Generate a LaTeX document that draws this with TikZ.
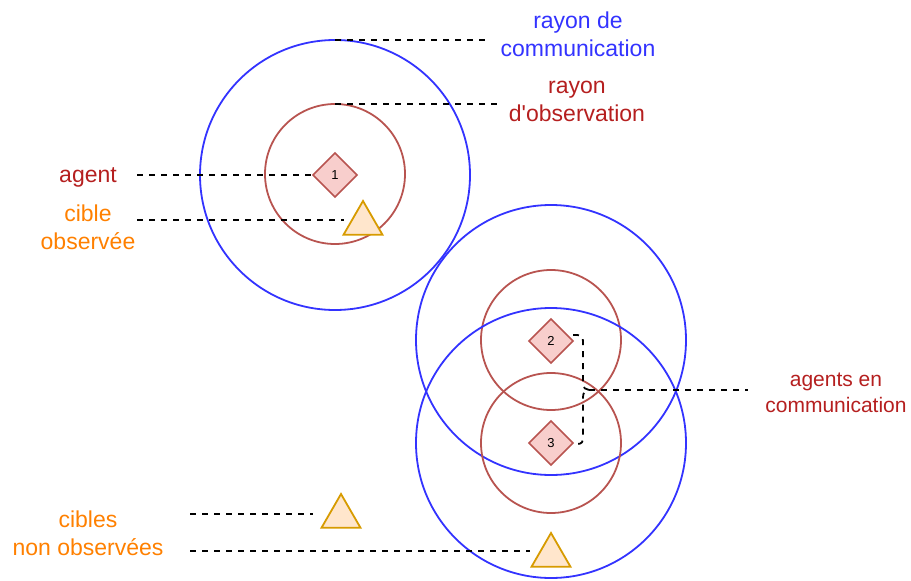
\documentclass[tikz,border=0pt]{standalone}
\usepackage{fontspec}
\setmainfont{Liberation Sans}[Ligatures=TeXOff]
\usetikzlibrary{shapes.geometric}
\definecolor{cblue}{HTML}{3333FF}
\definecolor{cred}{HTML}{B85450}
\definecolor{redfill}{HTML}{F8CECC}
\definecolor{orfill}{HTML}{FFE6CC}
\definecolor{orline}{HTML}{D79B00}
\definecolor{redtxt}{HTML}{B51F1F}
\definecolor{ortxt}{HTML}{FF8000}
\tikzset{
  comcirc/.style={circle, draw=cblue, line width=1.8pt, minimum size=270pt, inner sep=0pt, outer sep=0pt},
  obscirc/.style={circle, draw=cred, line width=1.8pt, minimum size=140pt, inner sep=0pt, outer sep=0pt},
  agentbox/.style={diamond, aspect=1, draw=cred, fill=redfill, line width=1.5pt, minimum width=44pt, minimum height=44pt, inner sep=0pt, outer sep=0pt, font=\fontsize{13}{15}\selectfont},
  targetbox/.style={regular polygon, regular polygon sides=3, draw=orline, fill=orfill, line width=1.8pt, minimum size=45pt, inner sep=0pt},
  lbl/.style={align=center, inner sep=0pt, font=\fontsize{23}{28}\selectfont},
  lead/.style={draw=black, line width=1.8pt, dash pattern=on 6pt off 6pt},
}
\begin{document}
\begin{tikzpicture}[x=1pt,y=-1pt]
\useasboundingbox (0,0) rectangle (911,581);
% circles
\node[comcirc] (cA) at (335,175) {};
\node[obscirc] (oA) at (335,174) {};
\node[comcirc] (cB) at (551,340) {};
\node[obscirc] (oB) at (551,340) {};
\node[comcirc] (cC) at (551,443) {};
\node[obscirc] (oC) at (551,443) {};
% agents
\node[agentbox] (a1) at (335,175) {1};
\node[agentbox] (a2) at (551,341) {2};
\node[agentbox] (a3) at (551,443) {3};
% targets
\node[targetbox] (t1) at (363,223.5) {};
\node[targetbox] (t2) at (341,516.5) {};
\node[targetbox] (t3) at (551,555.5) {};
% labels
\node[lbl, text=cblue] (lcom) at (578,34) {rayon de\\communication};
\node[lbl, text=redtxt] (lobs) at (577,101) {rayon\\d'observation};
\node[lbl, text=redtxt, anchor=base] (lagent) at (88,182) {agent};
\node[lbl, text=ortxt] (lcible) at (88,227) {cible\\observée};
\node[lbl, text=ortxt] (lcibles) at (88,533) {cibles\\non observées};
\node[align=center, inner sep=0pt, font=\fontsize{21}{26}\selectfont, text=redtxt] (lagents) at (836,393) {agents en\\communication};
% leader end points
\coordinate (ecom) at (485,40);
\coordinate (eobs) at (497,104);
\coordinate (eagent) at (137,175);
\coordinate (ecible) at (137,220);
\coordinate (ect1) at (344,220);
\coordinate (ecibles) at (190,514);
\coordinate (ect2) at (313,514);
\coordinate (enon) at (190,551);
\coordinate (ect3) at (530,551);
\coordinate (tip) at (589,390);
\coordinate (eagents) at (748,390);
% leaders
\draw[lead] (cA.north) -- (ecom);
\draw[lead] (oA.north) -- (eobs);
\draw[lead] (eagent) -- (a1.west);
\draw[lead] (ecible) -- (ect1);
\draw[lead] (ecibles) -- (ect2);
\draw[lead] (enon) -- (ect3);
\draw[lead] (tip) -- (eagents);
% bracket between agents 2 and 3
\draw[lead] (573,335) -- (577,335) .. controls (582,335) and (583,337) .. (583,342) -- (583,383)
  .. controls (583,388) and (586,390) .. (tip)
  .. controls (586,390) and (583,392) .. (583,397) -- (583,437)
  .. controls (583,442) and (582,444) .. (577,444) -- (573,444);
\end{tikzpicture}
\end{document}
